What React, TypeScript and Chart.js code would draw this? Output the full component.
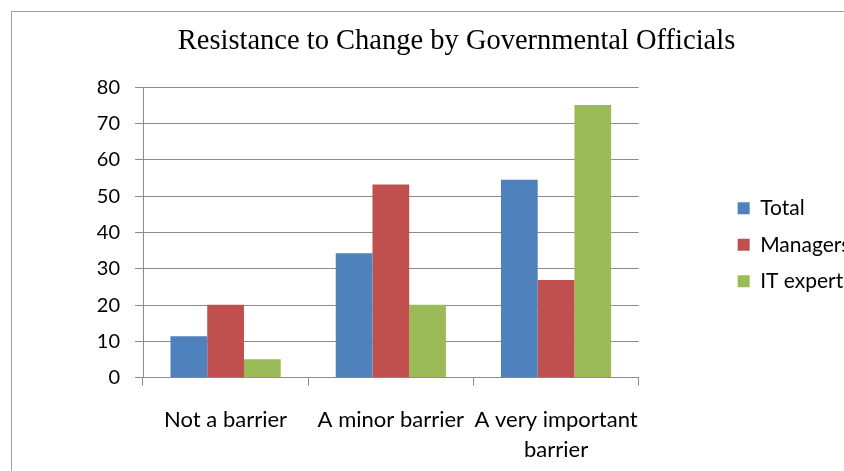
import React, { useEffect, useRef } from "react";
import { Chart, registerables } from "chart.js";

Chart.register(...registerables);

const categories: (string | string[])[] = [
  "Not a barrier",
  "A minor barrier",
  ["A very important", "barrier"],
];
const seriesNames = ["Total", "Managers", "IT experts"];
const totalValues = [11.4, 34.3, 54.5];
const managersValues = [20.1, 53.2, 26.9];
const itExpertsValues = [5.1, 20.1, 75.1];
const seriesColors = ["#4F81BD", "#C0504D", "#9BBB59"];
const yMin = 0;
const yMax = 80;
const yStep = 10;
const chartTitle = "Resistance to Change by Governmental Officials";

const GRID = "#8c8c8c";
const SANS = "Lato";

export default function App() {
  const ref = useRef<HTMLCanvasElement | null>(null);

  useEffect(() => {
    if (!ref.current) return;
    const chart = new Chart(ref.current, {
      type: "bar",
      data: {
        labels: categories as any,
        datasets: [totalValues, managersValues, itExpertsValues].map((d, i) => ({
          label: seriesNames[i],
          data: d,
          backgroundColor: seriesColors[i],
          borderWidth: 0,
          yAxisID: "y",
          categoryPercentage: 0.667,
          barPercentage: 1,
        })),
      },
      options: {
        animation: false,
        responsive: false,
        devicePixelRatio: 1,
        layout: { padding: { left: 46, right: 0, top: 0, bottom: 7.3 } },
        plugins: {
          tooltip: { enabled: false },
          title: {
            display: true,
            text: chartTitle,
            color: "#000",
            font: { family: "Liberation Serif", size: 28.5, weight: "normal" },
            padding: { top: 12, bottom: 29 },
          },
          legend: {
            position: "right",
            fullSize: false,
            align: "center",
            title: {
              display: true,
              text: " ",
              font: { size: 10 },
              padding: { top: 0, bottom: 12.6 },
            },
            labels: {
              boxWidth: 12,
              boxHeight: 12,
              padding: 15.5,
              color: "#000",
              font: { family: SANS, size: 21 },
            },
          },
        },
        scales: {
          x: {
            offset: true,
            grid: {
              display: true,
              drawOnChartArea: false,
              drawTicks: true,
              tickLength: 8,
              color: GRID,
              offset: true,
            },
            border: { display: true, color: GRID, width: 1 },
            ticks: {
              color: "#000",
              padding: 19,
              maxRotation: 0,
              autoSkip: false,
              font: { family: SANS, size: 22, lineHeight: 30 / 22 },
            },
          },
          y: {
            position: "left",
            min: yMin,
            max: yMax,
            afterFit: (s: any) => {
              s.width = 85;
            },
            grid: { color: GRID, tickLength: 8, drawTicks: true },
            border: { display: true, color: GRID, width: 1 },
            ticks: {
              stepSize: yStep,
              color: "#000",
              padding: 15,
              font: { family: SANS, size: 20 },
            },
          },
          yR: {
            type: "linear",
            position: "right",
            display: true,
            afterFit: (s: any) => {
              s.width = 83.5;
            },
            grid: { display: false, drawTicks: false },
            border: { display: false },
            ticks: { display: false },
          },
        },
      },
    });
    return () => chart.destroy();
  }, []);

  return (
    <div
      style={{
        position: "absolute",
        left: 0,
        top: 0,
        width: 844,
        height: 471,
        overflow: "hidden",
        background: "#fff",
      }}
    >
      <div
        style={{
          position: "absolute",
          left: 11,
          top: 11,
          width: 900,
          height: 500,
          borderLeft: "1px solid #a0a0a0",
          borderTop: "1px solid #a0a0a0",
        }}
      >
        <canvas
          ref={ref}
          width={843}
          height={479}
          style={{ display: "block", width: 843, height: 479 }}
        />
      </div>
    </div>
  );
}
